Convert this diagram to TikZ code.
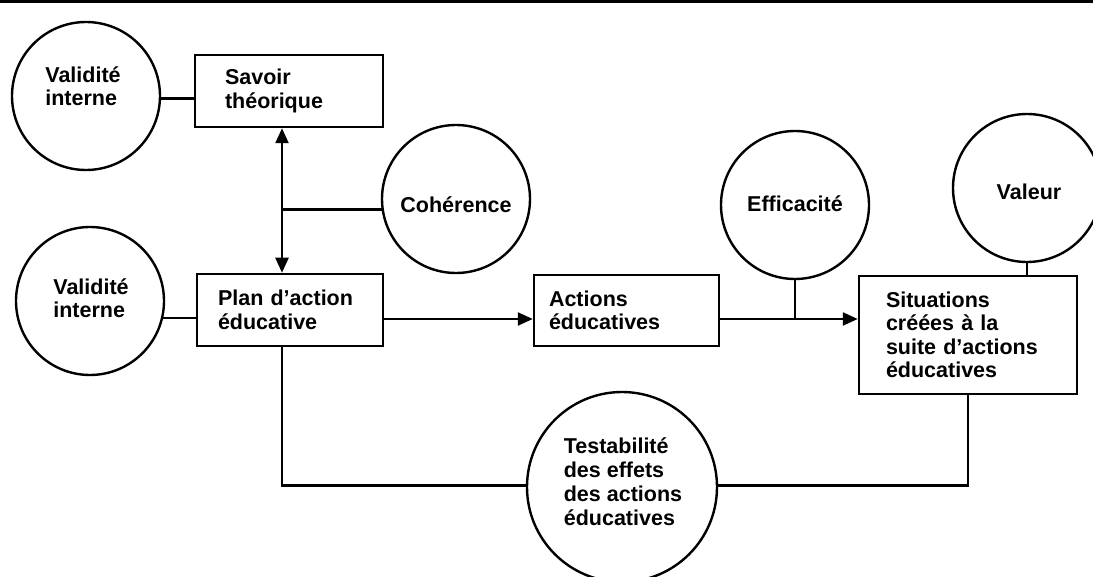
\documentclass[tikz,border=0pt]{standalone}
\usepackage{fontspec}
\setmainfont{Liberation Sans}
\usetikzlibrary{arrows.meta}
\newcommand{\dtxt}{\fontsize{21.5}{23.5}\selectfont\bfseries}
\tikzset{
 ln/.style={line width=2.4pt},
 boxst/.style={draw, line width=2.5pt, rectangle, inner sep=0pt, align=left, font=\dtxt},
 circst/.style={draw, line width=2.4pt, circle, inner sep=0pt, minimum size=148pt},
 lbl/.style={align=left, inner sep=0pt, font=\dtxt},
 arr/.style={-{Triangle[length=15pt,width=13pt]}},
 dblarr/.style={{Triangle[length=15pt,width=13pt]}-{Triangle[length=15pt,width=13pt]}}
}
\begin{document}
\begin{tikzpicture}[x=1pt,y=1pt]
\useasboundingbox (0,0) rectangle (1093,-577);
\clip (0,0) rectangle (1093,-577);
\draw[line width=3pt] (0,-1.5) -- (1093,-1.5);

\node[circst] (vi1) at (86,-96) {};
\node[lbl] (vi1t) at (83,-86) {Validité\\interne};
\node[boxst, minimum width=188pt, minimum height=72pt, text width=128pt] (sav) at (289,-91) {Savoir\\théorique};

\node[circst] (vi2) at (90,-301) {};
\node[lbl] (vi2t) at (91,-298) {Validité\\interne};
\node[boxst, minimum width=186pt, minimum height=72pt, text width=144pt] (plan) at (290,-310) {Plan d’action\\éducative};

\node[circst] (coh) at (456,-199) {};
\node[lbl] (coht) at (456,-205) {Cohérence};

\node[boxst, minimum width=185pt, minimum height=71pt, text width=155pt] (act) at (626.5,-310.5) {Actions\\éducatives};

\node[circst] (eff) at (795,-205) {};
\node[lbl] (efft) at (795,-204) {Efficacité};

\node[circst] (val) at (1027,-188) {};
\node[lbl] (valt) at (1029,-192) {Valeur};

\node[boxst, minimum width=218pt, minimum height=118pt, text width=164pt] (sit) at (968,-335) {Situations\\créées à la\\suite d’actions\\éducatives};

\node[circst, minimum size=190pt] (tst) at (622,-487) {};
\node[lbl, font=\fontsize{21.5}{24}\selectfont\bfseries] (tstt) at (623,-482) {Testabilité\\des effets\\des actions\\éducatives};

\coordinate (vx) at (282,0);
\coordinate (j1) at ([yshift=-9pt]plan.east);
\coordinate (j2) at ([yshift=-8.5pt]act.east);

\draw[ln] (vi1.-2) -- (vi1.-2 -| sav.west);
\draw[ln, dblarr] (sav.south -| vx) -- (plan.north -| vx);
\draw[ln] (coh.188) -- (coh.188 -| vx);
\draw[ln] (vi2.-13) -- (vi2.-13 -| plan.west);
\draw[ln, arr] (j1) -- (j1 -| act.west);
\draw[ln, arr] (j2) -- (j2 -| sit.west);
\draw[ln] (eff.south) -- (eff.south |- j2);
\draw[ln] (val.south) -- (val.south |- sit.north);
\draw[ln] (plan.south -| vx) |- (tst.179);
\draw[ln] (tst.1) -| (sit.south);
\end{tikzpicture}
\end{document}
